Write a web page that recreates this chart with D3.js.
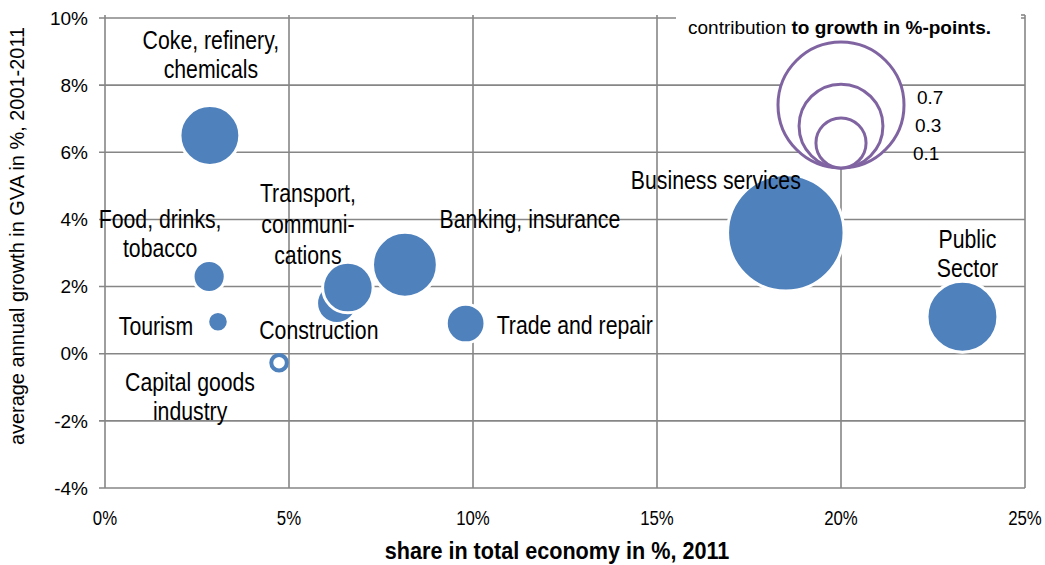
<!DOCTYPE html>
<html>
<head>
<meta charset="utf-8">
<script src="https://cdn.jsdelivr.net/npm/d3@7"></script>
<style>
  body { margin: 0; background: #fff; }
  svg text { font-family: "Liberation Sans", Arial, sans-serif; fill: #000; }
</style>
</head>
<body>
<svg id="chart" width="1045" height="565"></svg>
<script>
// sectors
const sectors = ['Coke, refinery, chemicals', 'Food, drinks, tobacco', 'Tourism', 'Capital goods industry',
  'Construction', 'Transport, communications', 'Banking, insurance', 'Trade and repair',
  'Business services', 'Public Sector']
const share = [2.85, 2.83, 3.07, 4.73, 6.3, 6.6, 8.15, 9.8, 18.5, 23.3]        // % of economy, 2011
const growth = [6.5, 2.3, 0.95, -0.27, 1.5, 1.97, 2.65, 0.9, 3.6, 1.1]        // avg annual growth %
const contribution = [0.18, 0.055, 0.024, -0.018, 0.085, 0.13, 0.21, 0.078, 0.66, 0.25] // %-points

// label lines + placement (offset from bubble centre in px, anchor, line gap)
const labelLines = [['Coke, refinery,', 'chemicals'], ['Food, drinks,', 'tobacco'], ['Tourism'], ['Capital goods', 'industry'],
  ['Construction'], ['Transport,', 'communi-', 'cations'], ['Banking, insurance'], ['Trade and repair'],
  ['Business services'], ['Public', 'Sector']]
const labelPos = [[1, -95, 'middle', 29], [-49, -57, 'middle', 29], [-62, 4, 'middle', 29], [-89, 19, 'middle', 29],
  [-18, 27, 'middle', 29], [-40, -94, 'middle', 31], [125, -46, 'middle', 29], [31, 2, 'start', 29],
  [-70, -53, 'middle', 29], [5, -78, 'middle', 29]]

const xTicks = [0, 5, 10, 15, 20, 25]
const yTicks = [-4, -2, 0, 2, 4, 6, 8, 10]
const legendValues = [0.7, 0.3, 0.1]

const svg = d3.select('#chart')
const x = d3.scaleLinear().domain([0, 25]).range([105, 1025])
const y = d3.scaleLinear().domain([-4, 10]).range([488, 18])
const r = d3.scaleSqrt().domain([0, 0.7]).range([0, 61])
const grid = '#868686'

// narrow text = Liberation Sans squeezed horizontally (Arial Narrow look-alike)
function narrow(parent, px, py, size, sx, anchor) {
  return parent.append('g')
      .attr('transform', `translate(${px},${py}) scale(${sx},1)`)
    .append('text')
      .attr('text-anchor', anchor || 'middle')
      .attr('dy', '0.35em')
      .style('font-size', size + 'px')
}

// gridlines
svg.append('g').selectAll('line').data(yTicks).join('line')
    .attr('x1', x(0) - 6).attr('x2', x(25))
    .attr('y1', d => y(d)).attr('y2', d => y(d))
    .attr('stroke', grid).attr('stroke-width', 1.6)
svg.append('g').selectAll('line').data(xTicks).join('line')
    .attr('x1', d => x(d)).attr('x2', d => x(d))
    .attr('y1', y(-4)).attr('y2', y(10) - 3)
    .attr('stroke', grid).attr('stroke-width', 1.6)

// tick labels
svg.append('g').selectAll('text').data(yTicks).join('text')
    .attr('x', x(0) - 17).attr('y', d => y(d))
    .attr('dy', '0.35em').attr('text-anchor', 'end')
    .style('font-size', '19px')
    .text(d => d + '%')
const xt = svg.append('g')
xTicks.forEach(d => narrow(xt, x(d), y(-4) + 30, 21, 0.8).text(d + '%'))

// axis titles
svg.append('g').attr('transform', 'translate(17,236) rotate(-90)')
  .append('g').attr('transform', 'scale(0.95,1)')
  .append('text')
    .attr('text-anchor', 'middle').attr('dy', '0.35em')
    .style('font-size', '21px')
    .text('average annual growth in GVA in %, 2001-2011')
narrow(svg, 557, 551, 24, 0.9).style('font-weight', 'bold')
    .text('share in total  economy in %, 2011')

// legend: white box hides the top gridline, white-filled circles
const lg = svg.append('g')
lg.append('rect').attr('x', 676).attr('y', 10).attr('width', 345).attr('height', 34).attr('fill', '#fff')
lg.append('line').attr('x1', x(25) - 4).attr('x2', x(25)).attr('y1', y(10) - 3).attr('y2', y(10) - 3)
    .attr('stroke', grid).attr('stroke-width', 1.6)
const legendBottom = 168
lg.selectAll('circle').data(legendValues).join('circle')
    .attr('cx', x(20)).attr('cy', d => legendBottom - r(d) - 2)
    .attr('r', d => r(d) + 2)
    .attr('fill', '#fff').attr('stroke', '#8064A2').attr('stroke-width', 3)
lg.selectAll('text.v').data(legendValues).join('text')
    .attr('class', 'v')
    .attr('x', (d, i) => 917 - i * 2).attr('y', (d, i) => 97 + i * 28)
    .attr('dy', '0.35em')
    .style('font-size', '19px')
    .text(d => d)
const title = lg.append('text')
    .attr('x', 688).attr('y', 27).attr('dy', '0.35em')
    .style('font-size', '19px')
title.append('tspan').text('contribution ')
title.append('tspan').style('font-weight', 'bold').text('to growth in %-points.')

// bubbles (negative contribution drawn hollow)
const data = sectors.map((s, i) => ({ name: s, share: share[i], growth: growth[i], c: contribution[i], i: i }))
svg.append('g').selectAll('circle').data(data).join('circle')
    .attr('cx', d => x(d.share)).attr('cy', d => y(d.growth))
    .attr('r', d => d.c < 0 ? r(-d.c) - 2 : r(d.c) - 1)
    .attr('fill', d => d.c < 0 ? '#fff' : '#4F81BD')
    .attr('stroke', d => d.c < 0 ? '#4F81BD' : '#fff')
    .attr('stroke-width', d => d.c < 0 ? 4 : 3)

// labels
const lbl = svg.append('g')
data.forEach(d => {
  const p = labelPos[d.i]
  const t = narrow(lbl, x(d.share) + p[0], y(d.growth) + p[1], 25, 0.85, p[2])
  labelLines[d.i].forEach((line, k) => {
    t.append('tspan').attr('x', 0).attr('y', k * p[3]).attr('dy', '0.35em').text(line)
  })
})
</script>
</body>
</html>
